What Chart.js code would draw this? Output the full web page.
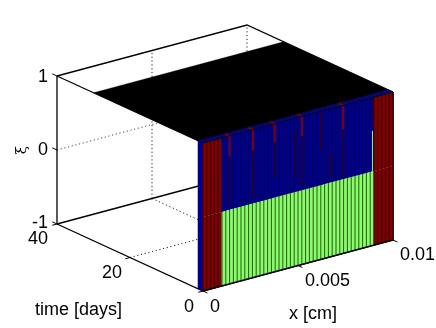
<!DOCTYPE html>
<html lang="en">
<head>
    <meta charset="UTF-8">
    <title>Phase field surface</title>
    <script src="https://cdn.jsdelivr.net/npm/chart.js"></script>
    <style>
        body { margin: 0; background: #fff; }
        canvas { display: block; }
    </style>
</head>
<body>
    <canvas id="graph" width="436" height="328"></canvas>

    <script>
        // values
        const xNodes = [0, 0.0002, 0.0004, 0.0006, 0.0008, 0.001, 0.0012, 0.0014, 0.0016, 0.0018,
            0.002, 0.0022, 0.0024, 0.0026, 0.0028, 0.003, 0.0032, 0.0034, 0.0036, 0.0038,
            0.004, 0.0042, 0.0044, 0.0046, 0.0048, 0.005, 0.0052, 0.0054, 0.0056, 0.0058,
            0.006, 0.0062, 0.0064, 0.0066, 0.0068, 0.007, 0.0072, 0.0074, 0.0076, 0.0078,
            0.008, 0.0082, 0.0084, 0.0086, 0.0088, 0.009, 0.0092, 0.0094, 0.0096, 0.0098, 0.01];
        // phase per cell: 0 green, 1 blue, 2 red
        const upperPhase = [2, 2, 2, 2, 2, 1, 1, 1, 1, 1, 1, 1, 1, 1, 1, 1, 1, 1, 1, 1, 1, 1, 1, 1, 1,
            1, 1, 1, 1, 1, 1, 1, 1, 1, 1, 1, 1, 1, 1, 1, 1, 1, 1, 1, 1, 2, 2, 2, 2, 2];
        const lowerPhase = [2, 2, 2, 2, 2, 0, 0, 0, 0, 0, 0, 0, 0, 0, 0, 0, 0, 0, 0, 0, 0, 0, 0, 0, 0,
            0, 0, 0, 0, 0, 0, 0, 0, 0, 0, 0, 0, 0, 0, 0, 0, 0, 0, 0, 0, 2, 2, 2, 2, 2];
        const firstStep = 1.4;
        const lastTime = 30;
        // streaks in the blue part: position, where they start, where red ends, where the dark part ends
        const streakX = [0.0014, 0.00263, 0.00377, 0.00484, 0.00521, 0.00621, 0.00674, 0.00737, 0.00895];
        const streakFrom = [1, 1, 1, 0.84, 1, 1, 0.4, 1, 1];
        const streakRedTo = [0.72, 0.72, 0.75, 1, 0.74, 1, 1, 0.68, 1];
        const streakDarkTo = [0.05, 0.08, 0.27, 0.2, 0.07, 0.48, 0.07, 0.03, 0.66];
        const greenStreakX = 0.00892;
        const greenStreakTop = 0.55;

        const xTicks = [0, 0.005, 0.01];
        const timeTicks = [0, 20, 40];
        const xiTicks = [-1, 0, 1];

        const phaseFill = ['#86ff64', '#00008f', '#800000'];
        const phaseEdge = ['#35502c', '#00004a', '#380000'];

        // view of the 3d box on the page
        function project(x, t, xi) {
            return {
                x: 203 + 19000 * x - 3.65 * t,
                y: 217 - 5100 * x - 1.675 * t - 74 * xi
            };
        }

        const datasets = [];

        function addLine(points, color, width, dash) {
            datasets.push({
                data: points.map(p => project(p[0], p[1], p[2])),
                showLine: true, fill: false, pointRadius: 0, tension: 0,
                borderColor: color, borderWidth: width, borderDash: dash || []
            });
        }

        function addPatch(points, color) {
            datasets.push({
                data: points.map(p => project(p[0], p[1], p[2])),
                showLine: true, fill: 'shape', pointRadius: 0, tension: 0,
                backgroundColor: color, borderColor: color, borderWidth: 0.3
            });
        }

        const xEnd = xTicks[2];
        const tEnd = timeTicks[2];
        const dots = [1.2, 2.6];

        // grid behind the surface
        addLine([[0, tEnd, 0], [xEnd, tEnd, 0]], '#444', 1, dots);
        addLine([[0, 20, -1], [xEnd, 20, -1]], '#222', 1, dots);
        addLine([[0.005, tEnd, -1], [0.005, tEnd, 1]], '#222', 1, dots);
        addLine([[0.005, tEnd, -1], [0.005, 0, -1]], '#222', 1, dots);
        addLine([[xEnd, tEnd, -1], [xEnd, tEnd, 1]], '#222', 1, dots);

        // box
        addLine([[0, tEnd, -1], [0, tEnd, 1]], '#000', 1.3);
        addLine([[0, tEnd, 1], [xEnd, tEnd, 1], [xEnd, 0, 1]], '#000', 1.3);
        addLine([[0, tEnd, 1], [0, 0, 1]], '#000', 1.3);
        addLine([[0, tEnd, -1], [xEnd, tEnd, -1]], '#000', 1.3);
        addLine([[0, tEnd, -1], [0, 0, -1], [xEnd, 0, -1], [xEnd, 0, 1]], '#000', 1.3);

        // top plane and the side of the first step
        addPatch([[0, firstStep, 1], [xEnd, firstStep, 1], [xEnd, lastTime, 1], [0, lastTime, 1], [0, firstStep, 1]], '#000');
        addPatch([[0, 0, -1], [0, firstStep, -1], [0, firstStep, 1], [0, 0, 1], [0, 0, -1]], phaseFill[1]);

        // front face and top band
        for (let i = 0; i < upperPhase.length; i++) {
            const a = xNodes[i];
            const b = xNodes[i + 1];
            addPatch([[a, 0, 0], [b, 0, 0], [b, 0, 1], [a, 0, 1], [a, 0, 0]], phaseFill[upperPhase[i]]);
            addPatch([[a, 0, -1], [b, 0, -1], [b, 0, 0], [a, 0, 0], [a, 0, -1]], phaseFill[lowerPhase[i]]);
            addPatch([[a, 0, 1], [b, 0, 1], [b, firstStep, 1], [a, firstStep, 1], [a, 0, 1]], phaseFill[1]);
        }
        xNodes.forEach((x, i) => {
            const up = upperPhase[Math.min(i, upperPhase.length - 1)];
            const low = lowerPhase[Math.min(i, lowerPhase.length - 1)];
            addLine([[x, 0, 0], [x, 0, 1]], phaseEdge[up], 1);
            addLine([[x, 0, -1], [x, 0, 0]], phaseEdge[low], 1);
            addLine([[x, 0, 1], [x, firstStep, 1]], phaseEdge[1], 0.7);
        });

        // streaks
        streakX.forEach((x, i) => {
            addLine([[x, 0, Math.min(streakFrom[i], streakRedTo[i])], [x, 0, streakDarkTo[i]]], '#2a0018', 1.6);
            if (streakRedTo[i] < 1) {
                addLine([[x, firstStep, 1], [x, 0, 1]], phaseFill[2], 2);
                addLine([[x, 0, 1], [x, 0, streakRedTo[i]]], phaseFill[2], 2);
            }
        });
        addLine([[greenStreakX, 0, 0], [greenStreakX, 0, greenStreakTop]], phaseFill[0], 1);

        // front edges
        addLine([[0, 0, 1], [xEnd, 0, 1]], '#000018', 1.2);
        addLine([[0, firstStep, 1], [xEnd, firstStep, 1]], '#000', 0.8);
        addLine([[0, 0, -1], [xEnd, 0, -1]], '#000', 1.3);
        addLine([[xEnd, 0, -1], [xEnd, 0, 1]], '#200000', 1);

        // tick marks
        xTicks.forEach(x => addLine([[x, 0, -1], [x, -1.2, -1]], '#000', 1));
        timeTicks.forEach(t => addLine([[0, t, -1], [-0.00025, t, -1]], '#000', 1));
        xiTicks.forEach(z => addLine([[0, tEnd, z], [0, tEnd + 1.3, z]], '#000', 1));

        // text, placed next to what it labels
        const labels = [
            { text: '1', x: 48, y: 77, align: 'right' },
            { text: '0', x: 48, y: 150, align: 'right' },
            { text: '-1', x: 48, y: 223, align: 'right' },
            { text: '40', x: 48, y: 239, align: 'right' },
            { text: '20', x: 122, y: 273, align: 'right' },
            { text: '0', x: 194, y: 307, align: 'right' },
            { text: '0', x: 210, y: 307, align: 'left' },
            { text: '0.005', x: 305, y: 281, align: 'left' },
            { text: '0.01', x: 400, y: 255, align: 'left' },
            { text: 'time [days]', x: 35, y: 310, align: 'left' },
            { text: 'x [cm]', x: 289, y: 314, align: 'left' }
        ];

        const textPlugin = {
            id: 'boxText',
            afterDraw(chart) {
                const ctx = chart.ctx;
                ctx.save();
                ctx.fillStyle = '#000';
                ctx.textBaseline = 'middle';
                ctx.font = '18px "Liberation Sans", Arial, sans-serif';
                labels.forEach(l => {
                    ctx.textAlign = l.align;
                    ctx.fillText(l.text, l.x, l.y);
                });
                ctx.translate(22, 150);
                ctx.rotate(-Math.PI / 2);
                ctx.textAlign = 'center';
                ctx.font = '15px "DejaVu Serif", serif';
                ctx.fillText('ξ', 0, 0);
                ctx.restore();
            }
        };

        // first dataset is painted last, so turn the list round
        new Chart(document.getElementById('graph').getContext('2d'), {
            type: 'scatter',
            data: { datasets: datasets.reverse() },
            options: {
                responsive: false,
                animation: false,
                layout: { padding: 0 },
                plugins: { legend: { display: false }, tooltip: { enabled: false } },
                scales: {
                    x: { type: 'linear', min: 0, max: 436, display: false },
                    y: { type: 'linear', min: 0, max: 328, reverse: true, display: false }
                }
            },
            plugins: [textPlugin]
        });
    </script>
</body>
</html>
